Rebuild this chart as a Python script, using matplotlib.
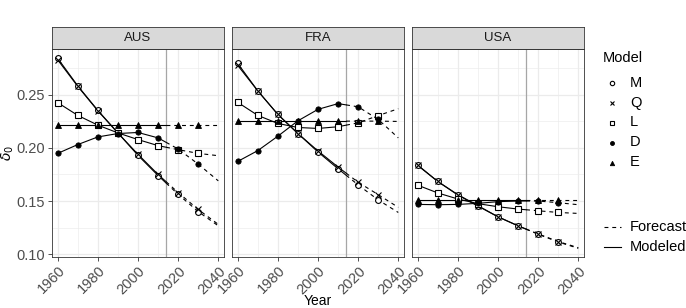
import numpy as np
import matplotlib
matplotlib.use("Agg")
import matplotlib.pyplot as plt
from matplotlib.lines import Line2D

plt.rcParams['font.family'] = ['Liberation Sans', 'DejaVu Sans']
plt.rcParams['mathtext.fontset'] = 'dejavusans'

years = [1960, 1970, 1980, 1990, 2000, 2010, 2020, 2030, 2040]
countries = ["AUS", "FRA", "USA"]
models = ["M", "Q", "L", "D", "E"]
split_year = 2014

aus_M = [0.2845, 0.2585, 0.2354, 0.2142, 0.1930, 0.1740, 0.1563, 0.1400, 0.1266]
aus_Q = [0.2830, 0.2580, 0.2350, 0.2140, 0.1940, 0.1750, 0.1580, 0.1420, 0.1280]
aus_L = [0.2427, 0.2307, 0.2215, 0.2142, 0.2079, 0.2022, 0.1984, 0.1949, 0.1927]
aus_D = [0.1949, 0.2032, 0.2104, 0.2136, 0.2146, 0.2095, 0.1990, 0.1848, 0.1690]
aus_E = [0.2218, 0.2218, 0.2218, 0.2218, 0.2218, 0.2218, 0.2218, 0.2218, 0.2218]

fra_M = [0.2797, 0.2538, 0.2316, 0.2136, 0.1962, 0.1804, 0.1652, 0.1510, 0.1392]
fra_Q = [0.2778, 0.2538, 0.2316, 0.2136, 0.1972, 0.1820, 0.1677, 0.1560, 0.1440]
fra_L = [0.2430, 0.2307, 0.2231, 0.2193, 0.2184, 0.2200, 0.2237, 0.2305, 0.2370]
fra_D = [0.1873, 0.1975, 0.2111, 0.2256, 0.2364, 0.2418, 0.2388, 0.2269, 0.2095]
fra_E = [0.2253, 0.2253, 0.2253, 0.2253, 0.2253, 0.2253, 0.2253, 0.2253, 0.2250]

usa_M = [0.1839, 0.1684, 0.1560, 0.1456, 0.1351, 0.1266, 0.1187, 0.1114, 0.1054]
usa_Q = [0.1835, 0.1684, 0.1556, 0.1452, 0.1351, 0.1266, 0.1190, 0.1118, 0.1060]
usa_L = [0.1649, 0.1576, 0.1519, 0.1475, 0.1446, 0.1424, 0.1408, 0.1392, 0.1383]
usa_D = [0.1468, 0.1465, 0.1468, 0.1478, 0.1494, 0.1500, 0.1500, 0.1484, 0.1465]
usa_E = [0.1510, 0.1510, 0.1510, 0.1510, 0.1510, 0.1510, 0.1510, 0.1510, 0.1510]

data = {
    "AUS": [aus_M, aus_Q, aus_L, aus_D, aus_E],
    "FRA": [fra_M, fra_Q, fra_L, fra_D, fra_E],
    "USA": [usa_M, usa_Q, usa_L, usa_D, usa_E],
}

marker_style = {
    "M": dict(marker='o', mfc='white', mec='black', ms=4.2, mew=0.8),
    "Q": dict(marker='x', mfc='black', mec='black', ms=4.2, mew=0.8),
    "L": dict(marker='s', mfc='white', mec='black', ms=4.0, mew=0.8),
    "D": dict(marker='o', mfc='black', mec='black', ms=3.8, mew=0.6),
    "E": dict(marker='^', mfc='black', mec='black', ms=4.2, mew=0.6),
}

W, H = 686, 308
fig = plt.figure(figsize=(W / 100, H / 100), dpi=100)

panel_left_px = [51.7, 231.7, 411.7]
panel_w_px = 172.6
top_px, bot_px, strip_top_px = 49.3, 256.7, 27.3

grey20 = '#333333'
grey30 = '#4D4D4D'
gridc = '#EBEBEB'

yrs = np.array(years, dtype=float)

for i, c in enumerate(countries):
    ax = fig.add_axes([panel_left_px[i] / W, 1 - bot_px / H, panel_w_px / W, (bot_px - top_px) / H])
    ax.set_xlim(1957, 2043)
    ax.set_ylim(0.0975, 0.293)
    ax.set_xticks([1960, 1980, 2000, 2020, 2040])
    ax.set_xticks([1970, 1990, 2010, 2030], minor=True)
    ax.set_yticks([0.10, 0.15, 0.20, 0.25])
    ax.set_yticks([0.125, 0.175, 0.225, 0.275], minor=True)
    ax.grid(True, which='major', color=gridc, lw=0.9)
    ax.grid(True, which='minor', color=gridc, lw=0.45)
    ax.set_axisbelow(True)
    for s in ax.spines.values():
        s.set_color(grey20)
        s.set_linewidth(0.6)
    ax.tick_params(axis='both', which='major', color=grey20, length=3, width=0.6,
                   labelcolor=grey30, labelsize=10.5, pad=2)
    ax.tick_params(axis='both', which='minor', length=0)
    ax.set_xticklabels([str(t) for t in [1960, 1980, 2000, 2020, 2040]],
                       rotation=45, ha='right', va='top', rotation_mode='anchor')
    if i == 0:
        ax.set_yticklabels(['0.10', '0.15', '0.20', '0.25'])
    else:
        ax.tick_params(axis='y', which='major', length=0, labelleft=False)

    ax.axvline(split_year, color='#A6A6A6', lw=0.9, zorder=1)

    for m, vals in zip(models, data[c]):
        v = np.array(vals)
        v_split = np.interp(split_year, yrs, v)
        mask_a = yrs < split_year
        xa = np.append(yrs[mask_a], split_year)
        ya = np.append(v[mask_a], v_split)
        xb = np.insert(yrs[~mask_a], 0, split_year)
        yb = np.insert(v[~mask_a], 0, v_split)
        ax.plot(xa, ya, color='black', lw=0.8, zorder=3)
        ax.plot(xb, yb, color='black', lw=0.8, ls=(0, (3.5, 3.5)), zorder=3)
        ax.plot(yrs[:-1], v[:-1], ls='none', zorder=4, **marker_style[m])

    sax = fig.add_axes([panel_left_px[i] / W, 1 - top_px / H, panel_w_px / W, (top_px - strip_top_px) / H])
    sax.set_facecolor('#D9D9D9')
    sax.set_xticks([])
    sax.set_yticks([])
    for s in sax.spines.values():
        s.set_color(grey20)
        s.set_linewidth(0.6)
    sax.text(0.5, 0.5, c, ha='center', va='center', fontsize=9.5, color='#1A1A1A',
             transform=sax.transAxes)

# axis titles
fig.text(8 / W, 1 - 153 / H, r'$\delta_0$', ha='center', va='center', fontsize=10, rotation=90)
fig.text(318 / W, 1 - 301 / H, 'Year', ha='center', va='center', fontsize=10)

# legend (manual)
fig.text(603 / W, 1 - 58.3 / H, 'Model', ha='left', va='center', fontsize=10.5)
leg_y = [83, 102.5, 122.5, 142.5, 162.5]
for m, y in zip(models, leg_y):
    st = dict(marker_style[m])
    st['ms'] = st['ms'] * 0.75
    fig.add_artist(Line2D([611.7 / W], [1 - y / H], ls='none', transform=fig.transFigure, **st))
    fig.text(630 / W, 1 - y / H, m, ha='left', va='center', fontsize=10.5)

fig.add_artist(Line2D([604 / W, 621 / W], [1 - 227 / H, 1 - 227 / H], color='black', lw=0.8,
                      ls=(0, (3.5, 3.5)), transform=fig.transFigure))
fig.text(630 / W, 1 - 227 / H, 'Forecast', ha='left', va='center', fontsize=10.5)
fig.add_artist(Line2D([604 / W, 621 / W], [1 - 246.7 / H, 1 - 246.7 / H], color='black', lw=0.8,
                      transform=fig.transFigure))
fig.text(630 / W, 1 - 246.7 / H, 'Modeled', ha='left', va='center', fontsize=10.5)

fig.savefig('out.png', dpi=100)
